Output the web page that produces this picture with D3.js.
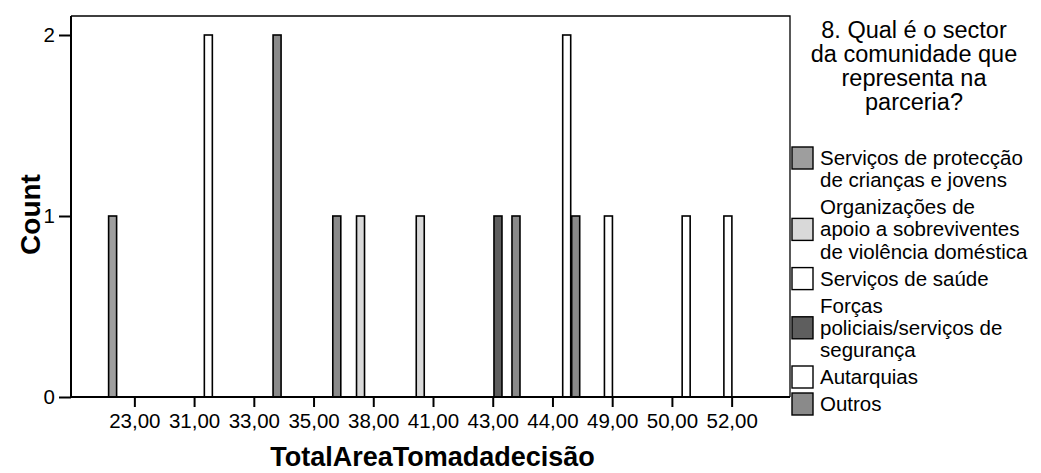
<!DOCTYPE html>
<html>
<head>
<meta charset="utf-8">
<script src="https://cdn.jsdelivr.net/npm/d3@7"></script>
<style>
  html, body { margin: 0; padding: 0; background: #fff; }
  svg { display: block; font-family: "Liberation Sans", Arial, sans-serif; }
</style>
</head>
<body>
<svg id="chart" width="1041" height="473"></svg>
<script>
// ---- data ----
const categories = ["23,00","31,00","33,00","35,00","38,00","41,00","43,00","44,00","49,00","50,00","52,00"];
const seriesNames = [
  "Serviços de protecção de crianças e jovens",
  "Organizações de apoio a sobreviventes de violência doméstica",
  "Serviços de saúde",
  "Forças policiais/serviços de segurança",
  "Autarquias",
  "Outros"
];
const legendLines = [
  ["Serviços de protecção", "de crianças e jovens"],
  ["Organizações de", "apoio a sobreviventes", "de violência doméstica"],
  ["Serviços de saúde"],
  ["Forças", "policiais/serviços de", "segurança"],
  ["Autarquias"],
  ["Outros"]
];
const countsProteccao   = [1,0,0,0,0,0,0,0,0,0,0];
const countsOrganizacoes= [0,0,0,0,1,1,0,0,0,0,0];
const countsSaude       = [0,0,0,0,0,0,0,0,1,0,1];
const countsForcas      = [0,0,0,0,0,0,1,0,0,0,0];
const countsAutarquias  = [0,2,0,0,0,0,0,2,0,1,0];
const countsOutros      = [0,0,2,1,0,0,1,1,0,0,0];
const seriesCounts = [countsProteccao, countsOrganizacoes, countsSaude, countsForcas, countsAutarquias, countsOutros];
const yTicks = [0, 1, 2];
const legendTitleLines = ["8. Qual é o sector", "da comunidade que", "representa na", "parceria?"];
const xTitle = "TotalAreaTomadadecisão";
const yTitle = "Count";

// ---- styles ----
const fills = ["#9e9e9e", "#d9d9d9", "#ffffff", "#5e5e5e", "#ffffff", "#8a8a8a"];

const svg = d3.select("#chart");
const plot = { left: 71, right: 790, top: 16, bottom: 397 };

const x = d3.scaleBand().domain(categories).range([105, 762]).padding(0);
const xs = d3.scaleBand().domain(seriesNames).range([-27, 27]).padding(0);
const y = d3.scaleLinear().domain([0, 2]).range([plot.bottom, 35]);

// bars
const bars = [];
seriesNames.forEach((s, si) => {
  categories.forEach((c, ci) => {
    const v = seriesCounts[si][ci];
    if (v > 0) bars.push({ s, si, c, v });
  });
});
svg.append("g").selectAll("rect").data(bars).join("rect")
  .attr("x", d => x(d.c) + x.bandwidth() / 2 + xs(d.s) + 0.75)
  .attr("y", d => y(d.v))
  .attr("width", xs.bandwidth() - 1)
  .attr("height", d => y(0) - y(d.v))
  .attr("fill", d => fills[d.si])
  .attr("stroke", "#000")
  .attr("stroke-width", 1.6);

// frame
svg.append("path")
  .attr("d", `M${plot.left},${plot.top}H${plot.right}V${plot.bottom}`)
  .attr("fill", "none").attr("stroke", "#000").attr("stroke-width", 1.3);

// x axis
const xAxis = d3.axisBottom(x).tickSize(10).tickPadding(6).tickSizeOuter(0);
const gx = svg.append("g").attr("transform", `translate(0,${plot.bottom})`).call(xAxis);
gx.select(".domain").attr("d", `M${plot.left},0H${plot.right}`).attr("stroke-width", 2);
gx.selectAll(".tick line").attr("stroke-width", 2);
gx.selectAll(".tick text").attr("font-size", 20.5).attr("fill", "#000")
  .attr("font-family", "'Liberation Sans', Arial, sans-serif").attr("dy", "0.72em");

// y axis
const yAxis = d3.axisLeft(y).tickValues(yTicks).tickFormat(d3.format("d")).tickSize(12).tickPadding(4).tickSizeOuter(0);
const gy = svg.append("g").attr("transform", `translate(${plot.left},0)`).call(yAxis);
gy.select(".domain").attr("d", `M0,${plot.top}V${plot.bottom}`).attr("stroke-width", 2);
gy.selectAll(".tick line").attr("stroke-width", 2);
gy.selectAll(".tick text").attr("font-size", 20.5).attr("fill", "#000")
  .attr("font-family", "'Liberation Sans', Arial, sans-serif");

// axis titles
svg.append("text").attr("x", (plot.left + plot.right) / 2 + 2).attr("y", 466)
  .attr("text-anchor", "middle").attr("font-size", 27).attr("font-weight", "bold").text(xTitle);
svg.append("text").attr("transform", `translate(40,${(plot.top + plot.bottom) / 2 + 8}) rotate(-90)`)
  .attr("text-anchor", "middle").attr("font-size", 28).attr("font-weight", "bold").text(yTitle);

// legend title
const lt = svg.append("text").attr("text-anchor", "middle").attr("font-size", 23.5);
legendTitleLines.forEach((l, i) => {
  lt.append("tspan").attr("x", 914).attr("y", 38 + i * 24).text(l);
});

// legend items
const lineH = 22.2, gap = 4.8;
let base = 165;
const lg = svg.append("g");
legendLines.forEach((lines, i) => {
  const t = lg.append("text").attr("font-size", 20.5);
  lines.forEach((l, j) => {
    t.append("tspan").attr("x", 820).attr("y", base + j * lineH).text(l);
  });
  const mid = Math.floor((lines.length - 1) / 2);
  const cy = base + mid * lineH - 7;
  lg.append("rect").attr("x", 792).attr("y", cy - 11).attr("width", 21).attr("height", 22)
    .attr("fill", fills[i]).attr("stroke", "#000").attr("stroke-width", 1.4);
  base += lines.length * lineH + gap;
});
</script>
</body>
</html>
